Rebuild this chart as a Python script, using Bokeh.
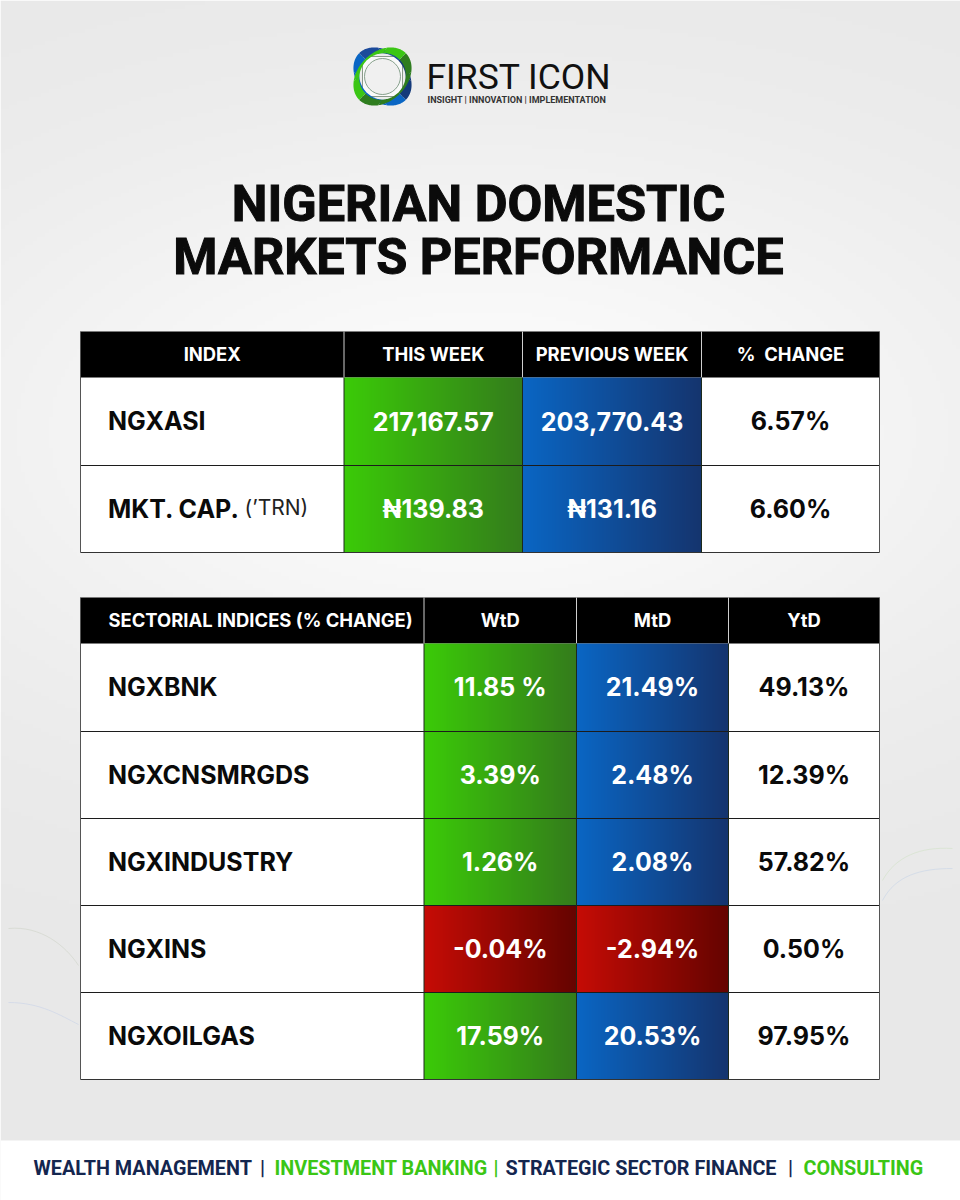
from bokeh.plotting import figure
from bokeh.embed import file_html
from bokeh.resources import INLINE
from bokeh.core.properties import value
import numpy as np

# table data
index_headers = ["INDEX", "THIS WEEK", "PREVIOUS WEEK", "%\u00a0 CHANGE"]
index_names = ["NGXASI", "MKT. CAP."]
this_week = ["217,167.57", "₦139.83"]
previous_week = ["203,770.43", "₦131.16"]
index_change = ["6.57%", "6.60%"]

sector_headers = ["SECTORIAL INDICES (% CHANGE)", "WtD", "MtD", "YtD"]
sector_names = ["NGXBNK", "NGXCNSMRGDS", "NGXINDUSTRY", "NGXINS", "NGXOILGAS"]
wtd = ["11.85 %", "3.39%", "1.26%", "-0.04%", "17.59%"]
mtd = ["21.49%", "2.48%", "2.08%", "-2.94%", "20.53%"]
ytd = ["49.13%", "12.39%", "57.82%", "0.50%", "97.95%"]

footer_items = ["WEALTH MANAGEMENT", "|", "INVESTMENT BANKING", "|", "STRATEGIC SECTOR FINANCE", "|", "CONSULTING"]

# layout, in picture pixels
index_cols = [80, 343.5, 522, 701, 879]
index_rows = [331, 377, 465, 552]
sector_cols = [80, 423.5, 576, 728, 879]
sector_rows = [597, 643, 731, 818, 905, 992, 1079]
footer_x = [33, 259.5, 274, 493, 505, 787.5, 803]
footer_colors = ["#14264f", "#14264f", "#3bc615", "#3bc615", "#14264f", "#14264f", "#3bc615"]

FONT = value("Inter")
GREEN = ("#3bcb08", "#347c1c")
BLUE = ("#0a66c4", "#15356f")
RED = ("#c60c06", "#650400")

p = figure(width=960, height=1200, x_range=(0, 960), y_range=(1200, 0),
           output_backend="svg", toolbar_location=None,
           x_axis_location=None, y_axis_location=None, min_border=0)
p.grid.visible = False
p.outline_line_color = None


def rgb(c):
    return [int(c[i:i + 2], 16) for i in (1, 3, 5)]


def gradient(x0, x1, y0, y1, stops):
    n = int(x1 - x0)
    a, b = np.array(rgb(stops[0])), np.array(rgb(stops[1]))
    img = np.zeros((1, n), dtype=np.uint32)
    view = img.view(dtype=np.uint8).reshape((1, n, 4))
    t = np.linspace(0, 1, n)[:, None]
    view[0, :, :3] = (a + (b - a) * t).astype(np.uint8)
    view[0, :, 3] = 255
    p.image_rgba(image=[img], x=x0, y=y0, dw=x1 - x0, dh=y1 - y0)


# page background
h, w = 300, 240
yy, xx = np.mgrid[0:h, 0:w]
yy = yy * 4
xx = xx * 4
shade = 232 + 20 * np.exp(-((yy - 430) / 300) ** 2) * np.exp(-((xx - 480) / 560) ** 2)
bg = np.zeros((h, w), dtype=np.uint32)
bg_view = bg.view(dtype=np.uint8).reshape((h, w, 4))
bg_view[:, :, 0] = shade
bg_view[:, :, 1] = shade
bg_view[:, :, 2] = shade
bg_view[:, :, 3] = 255
p.image_rgba(image=[bg], x=0, y=0, dw=960, dh=1200)

# faint swooshes
p.bezier(x0=[8, 8, 952, 952], y0=[928, 1002, 848, 868], x1=[78, 78, 882, 882], y1=[965, 1024, 880, 900],
         cx0=[40, 40, 920, 920], cy0=[925, 1002, 846, 868], cx1=[65, 60, 895, 895], cy1=[945, 1015, 856, 875],
         line_color=["#d9dcd5", "#d5dbe8", "#dbe5d5", "#d5dde8"], line_width=1)

# footer band
p.quad(left=0, right=960, top=1140, bottom=1200, fill_color="white", line_color=None)
p.text(x=footer_x, y=[1168] * 7, text=footer_items, text_color=footer_colors, text_font=value("Roboto"),
       text_font_size="19.8px", text_font_style="bold", text_baseline="middle", text_align="left")


def draw_table(cols, rows, headers, names, blocks):
    p.quad(left=cols[0], right=cols[-1], top=rows[1], bottom=rows[-1], fill_color="white", line_color=None)
    p.quad(left=cols[0], right=cols[-1], top=rows[0], bottom=rows[1], fill_color="black", line_color=None)
    for c, (values, stops) in enumerate(blocks):
        if stops is None:
            continue
        for r, v in enumerate(values):
            use = RED if v.startswith("-") else stops
            gradient(cols[c + 1], cols[c + 2], rows[r + 1], rows[r + 2], use)
    # rules
    p.segment(x0=cols[0], x1=cols[-1], y0=rows[2:-1], y1=rows[2:-1], line_color="#1c1c1c", line_width=1)
    p.segment(x0=cols[0], x1=cols[-1], y0=rows[-1], y1=rows[-1], line_color="#333333", line_width=1.2)
    p.segment(x0=[cols[0], cols[-1]], x1=[cols[0], cols[-1]], y0=rows[0], y1=rows[-1], line_color="#555555", line_width=1)
    p.segment(x0=cols[1:-1], x1=cols[1:-1], y0=rows[0], y1=rows[1], line_color="#cfcfcf", line_width=1)
    p.segment(x0=cols[1:-1], x1=cols[1:-1], y0=rows[1], y1=rows[-1], line_color="#1c2a1c", line_width=1)
    # headers
    header_mid = (rows[0] + rows[1]) / 2 - 1
    for c, head in enumerate(headers):
        if len(head) > 20:
            p.text(x=[108], y=[header_mid], text=[head], text_color="white", text_font=FONT, text_font_size="18.4px",
                   text_font_style="bold", text_baseline="middle", text_align="left")
        else:
            p.text(x=[(cols[c] + cols[c + 1]) / 2], y=[header_mid], text=[head], text_color="white", text_font=FONT,
                   text_font_size="18.4px", text_font_style="bold", text_baseline="middle", text_align="center")
    # body
    mids = [(rows[i] + rows[i + 1]) / 2 - 0.5 for i in range(1, len(rows) - 1)]
    p.text(x=[107.5] * len(names), y=mids, text=names, text_color="#0a0a0a", text_font=FONT, text_font_size="25px",
           text_font_style="bold", text_baseline="middle", text_align="left")
    for c, (values, stops) in enumerate(blocks):
        p.text(x=[(cols[c + 1] + cols[c + 2]) / 2] * len(values), y=mids, text=values,
               text_color="white" if stops else "#0a0a0a", text_font=FONT, text_font_size="25px",
               text_font_style="bold", text_baseline="middle", text_align="center")


draw_table(index_cols, index_rows, index_headers, index_names,
           [(this_week, GREEN), (previous_week, BLUE), (index_change, None)])
draw_table(sector_cols, sector_rows, sector_headers, sector_names,
           [(wtd, GREEN), (mtd, BLUE), (ytd, None)])
p.text(x=[244], y=[507], text=["(ʼTRN)"], text_color="#222222", text_font=FONT, text_font_size="21px",
       text_baseline="middle", text_align="left")

# title
p.text(x=[478, 478], y=[203, 256], text=["NIGERIAN DOMESTIC", "MARKETS PERFORMANCE"], text_color="#0b0b0b",
       text_font=value("Roboto"), text_font_size="50.5px", text_font_style="bold", text_outline_color="#0b0b0b",
       text_baseline="middle", text_align="center")

# logo: two crossed bands over a thin square, ring in the middle
LX, LY = 382, 76
ts = np.linspace(0, 2 * np.pi, 9)


def band(rot, colors):
    for i, col in enumerate(colors):
        t = np.linspace(ts[i], ts[i + 1], 24)
        ox, oy = 33 * np.cos(t), 24.5 * np.sin(t)
        ix, iy = 24 * np.cos(t[::-1]), 22.5 * np.sin(t[::-1])
        bx = np.r_[ox, ix]
        by = np.r_[oy, iy]
        p.patch(LX + bx * np.cos(rot) - by * np.sin(rot), LY + bx * np.sin(rot) + by * np.cos(rot),
                fill_color=col, line_color=None)


p.rect(x=[LX], y=[LY], width=40, height=40, fill_color="#fafafa", line_color="#8a9a8a", line_width=1)
band(np.pi / 4, ["#0a66c4", "#0a66c4", "#0a66c4", "#0a66c4", "#1b4a9b", "#1b4a9b", "#143a7a", "#143a7a"])
band(-np.pi / 4, ["#2f7d1f", "#2f7d1f", "#2f7d1f", "#2f7d1f", "#3bc615", "#3bc615", "#3bc615", "#3bc615"])
p.scatter(x=[LX], y=[LY], size=36, marker="circle", fill_color="#f0f0f0", line_color="#6a8a70", line_width=0.8)
p.text(x=[426], y=[76], text=["FIRST ICON"], text_color="#111111", text_font=value("Roboto"),
       text_font_size="35.5px", text_font_style="normal", text_baseline="middle", text_align="left")
p.text(x=[427], y=[99], text=["INSIGHT | INNOVATION | IMPLEMENTATION"], text_color="#333333", text_font=value("Roboto"),
       text_font_size="9px", text_font_style="bold", text_baseline="middle", text_align="left")

open("out.html", "w").write(file_html(p, INLINE))
